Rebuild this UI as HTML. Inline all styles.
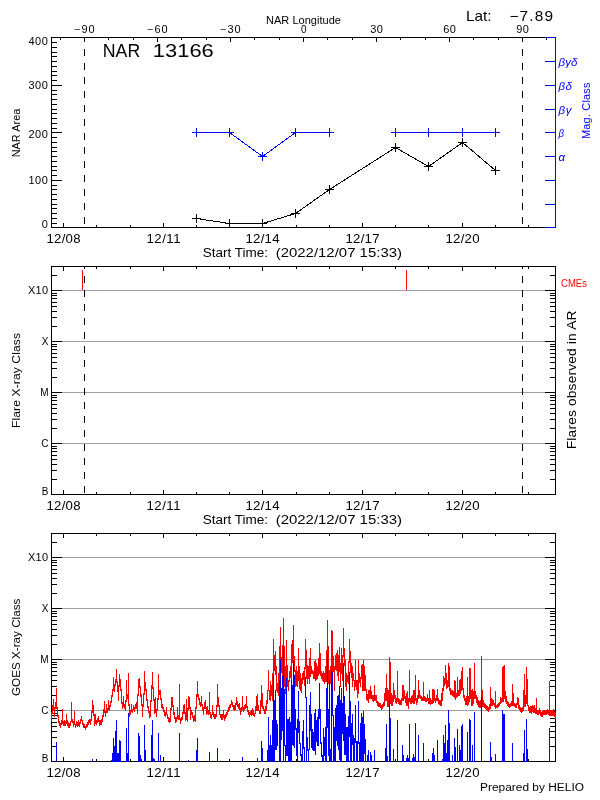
<!DOCTYPE html>
<html><head><meta charset="utf-8"><title>NAR 13166</title>
<style>html,body{margin:0;padding:0;background:#fff}svg{display:block}</style>
</head><body>
<svg width="600" height="800" viewBox="0 0 600 800" shape-rendering="crispEdges">
<rect width="600" height="800" fill="#fff"/>
<rect x="51" y="37" width="505" height="1" fill="#000"/>
<rect x="51" y="227" width="505" height="1" fill="#000"/>
<rect x="51" y="37" width="1" height="191" fill="#000"/>
<rect x="555" y="37" width="1" height="191" fill="#000"/>
<rect x="63" y="223" width="1" height="5" fill="#000"/>
<rect x="96" y="225" width="1" height="3" fill="#000"/>
<rect x="130" y="225" width="1" height="3" fill="#000"/>
<rect x="163" y="223" width="1" height="5" fill="#000"/>
<rect x="196" y="225" width="1" height="3" fill="#000"/>
<rect x="229" y="225" width="1" height="3" fill="#000"/>
<rect x="262" y="223" width="1" height="5" fill="#000"/>
<rect x="296" y="225" width="1" height="3" fill="#000"/>
<rect x="329" y="225" width="1" height="3" fill="#000"/>
<rect x="362" y="223" width="1" height="5" fill="#000"/>
<rect x="395" y="225" width="1" height="3" fill="#000"/>
<rect x="428" y="225" width="1" height="3" fill="#000"/>
<rect x="462" y="223" width="1" height="5" fill="#000"/>
<rect x="495" y="225" width="1" height="3" fill="#000"/>
<rect x="528" y="225" width="1" height="3" fill="#000"/>
<rect x="60" y="37" width="1" height="3" fill="#000"/>
<rect x="84" y="37" width="1" height="5" fill="#000"/>
<rect x="108" y="37" width="1" height="3" fill="#000"/>
<rect x="133" y="37" width="1" height="3" fill="#000"/>
<rect x="157" y="37" width="1" height="5" fill="#000"/>
<rect x="181" y="37" width="1" height="3" fill="#000"/>
<rect x="206" y="37" width="1" height="3" fill="#000"/>
<rect x="230" y="37" width="1" height="5" fill="#000"/>
<rect x="254" y="37" width="1" height="3" fill="#000"/>
<rect x="279" y="37" width="1" height="3" fill="#000"/>
<rect x="303" y="37" width="1" height="5" fill="#000"/>
<rect x="327" y="37" width="1" height="3" fill="#000"/>
<rect x="352" y="37" width="1" height="3" fill="#000"/>
<rect x="376" y="37" width="1" height="5" fill="#000"/>
<rect x="400" y="37" width="1" height="3" fill="#000"/>
<rect x="425" y="37" width="1" height="3" fill="#000"/>
<rect x="449" y="37" width="1" height="5" fill="#000"/>
<rect x="473" y="37" width="1" height="3" fill="#000"/>
<rect x="498" y="37" width="1" height="3" fill="#000"/>
<rect x="522" y="37" width="1" height="5" fill="#000"/>
<rect x="546" y="37" width="1" height="3" fill="#000"/>
<rect x="51" y="227" width="11" height="1" fill="#000"/>
<rect x="51" y="223" width="6" height="1" fill="#000"/>
<rect x="51" y="218" width="6" height="1" fill="#000"/>
<rect x="51" y="213" width="6" height="1" fill="#000"/>
<rect x="51" y="208" width="6" height="1" fill="#000"/>
<rect x="51" y="204" width="6" height="1" fill="#000"/>
<rect x="51" y="199" width="6" height="1" fill="#000"/>
<rect x="51" y="194" width="6" height="1" fill="#000"/>
<rect x="51" y="189" width="6" height="1" fill="#000"/>
<rect x="51" y="185" width="6" height="1" fill="#000"/>
<rect x="51" y="180" width="11" height="1" fill="#000"/>
<rect x="51" y="175" width="6" height="1" fill="#000"/>
<rect x="51" y="170" width="6" height="1" fill="#000"/>
<rect x="51" y="166" width="6" height="1" fill="#000"/>
<rect x="51" y="161" width="6" height="1" fill="#000"/>
<rect x="51" y="156" width="6" height="1" fill="#000"/>
<rect x="51" y="151" width="6" height="1" fill="#000"/>
<rect x="51" y="147" width="6" height="1" fill="#000"/>
<rect x="51" y="142" width="6" height="1" fill="#000"/>
<rect x="51" y="137" width="6" height="1" fill="#000"/>
<rect x="51" y="132" width="11" height="1" fill="#000"/>
<rect x="51" y="128" width="6" height="1" fill="#000"/>
<rect x="51" y="123" width="6" height="1" fill="#000"/>
<rect x="51" y="118" width="6" height="1" fill="#000"/>
<rect x="51" y="113" width="6" height="1" fill="#000"/>
<rect x="51" y="109" width="6" height="1" fill="#000"/>
<rect x="51" y="104" width="6" height="1" fill="#000"/>
<rect x="51" y="99" width="6" height="1" fill="#000"/>
<rect x="51" y="94" width="6" height="1" fill="#000"/>
<rect x="51" y="90" width="6" height="1" fill="#000"/>
<rect x="51" y="85" width="11" height="1" fill="#000"/>
<rect x="51" y="80" width="6" height="1" fill="#000"/>
<rect x="51" y="75" width="6" height="1" fill="#000"/>
<rect x="51" y="71" width="6" height="1" fill="#000"/>
<rect x="51" y="66" width="6" height="1" fill="#000"/>
<rect x="51" y="61" width="6" height="1" fill="#000"/>
<rect x="51" y="56" width="6" height="1" fill="#000"/>
<rect x="51" y="52" width="6" height="1" fill="#000"/>
<rect x="51" y="47" width="6" height="1" fill="#000"/>
<rect x="51" y="42" width="6" height="1" fill="#000"/>
<rect x="51" y="37" width="11" height="1" fill="#000"/>
<rect x="84" y="37" width="1" height="3" fill="#000"/>
<rect x="84" y="49" width="1" height="7" fill="#000"/>
<rect x="84" y="63" width="1" height="7" fill="#000"/>
<rect x="84" y="77" width="1" height="7" fill="#000"/>
<rect x="84" y="91" width="1" height="7" fill="#000"/>
<rect x="84" y="105" width="1" height="7" fill="#000"/>
<rect x="84" y="119" width="1" height="7" fill="#000"/>
<rect x="84" y="133" width="1" height="7" fill="#000"/>
<rect x="84" y="147" width="1" height="7" fill="#000"/>
<rect x="84" y="161" width="1" height="7" fill="#000"/>
<rect x="84" y="175" width="1" height="7" fill="#000"/>
<rect x="84" y="189" width="1" height="7" fill="#000"/>
<rect x="84" y="203" width="1" height="7" fill="#000"/>
<rect x="84" y="217" width="1" height="7" fill="#000"/>
<rect x="522" y="37" width="1" height="3" fill="#000"/>
<rect x="522" y="49" width="1" height="7" fill="#000"/>
<rect x="522" y="63" width="1" height="7" fill="#000"/>
<rect x="522" y="77" width="1" height="7" fill="#000"/>
<rect x="522" y="91" width="1" height="7" fill="#000"/>
<rect x="522" y="105" width="1" height="7" fill="#000"/>
<rect x="522" y="119" width="1" height="7" fill="#000"/>
<rect x="522" y="133" width="1" height="7" fill="#000"/>
<rect x="522" y="147" width="1" height="7" fill="#000"/>
<rect x="522" y="161" width="1" height="7" fill="#000"/>
<rect x="522" y="175" width="1" height="7" fill="#000"/>
<rect x="522" y="189" width="1" height="7" fill="#000"/>
<rect x="522" y="203" width="1" height="7" fill="#000"/>
<rect x="522" y="217" width="1" height="7" fill="#000"/>
<rect x="555" y="37" width="1" height="191" fill="#00f"/>
<rect x="545" y="227" width="11" height="1" fill="#00f"/>
<rect x="545" y="204" width="11" height="1" fill="#00f"/>
<rect x="545" y="180" width="11" height="1" fill="#00f"/>
<rect x="545" y="156" width="11" height="1" fill="#00f"/>
<rect x="545" y="132" width="11" height="1" fill="#00f"/>
<rect x="545" y="109" width="11" height="1" fill="#00f"/>
<rect x="545" y="85" width="11" height="1" fill="#00f"/>
<rect x="545" y="61" width="11" height="1" fill="#00f"/>
<rect x="545" y="37" width="11" height="1" fill="#00f"/>
<polyline points="196.5,218.5 229.5,223.5 262.5,223.5 295.5,213.5 329.5,189.5 395.5,147.5 428.5,166.5 462.5,142.5 495.5,170.5" fill="none" stroke="#000" stroke-width="1"/>
<rect x="192" y="218" width="9" height="1" fill="#000"/>
<rect x="196" y="214" width="1" height="9" fill="#000"/>
<rect x="225" y="223" width="9" height="1" fill="#000"/>
<rect x="229" y="219" width="1" height="9" fill="#000"/>
<rect x="258" y="223" width="9" height="1" fill="#000"/>
<rect x="262" y="219" width="1" height="9" fill="#000"/>
<rect x="291" y="213" width="9" height="1" fill="#000"/>
<rect x="295" y="209" width="1" height="9" fill="#000"/>
<rect x="325" y="189" width="9" height="1" fill="#000"/>
<rect x="329" y="185" width="1" height="9" fill="#000"/>
<rect x="391" y="147" width="9" height="1" fill="#000"/>
<rect x="395" y="143" width="1" height="9" fill="#000"/>
<rect x="424" y="166" width="9" height="1" fill="#000"/>
<rect x="428" y="162" width="1" height="9" fill="#000"/>
<rect x="458" y="142" width="9" height="1" fill="#000"/>
<rect x="462" y="138" width="1" height="9" fill="#000"/>
<rect x="491" y="170" width="9" height="1" fill="#000"/>
<rect x="495" y="166" width="1" height="9" fill="#000"/>
<polyline points="196.5,132.5 229.5,132.5 262.5,156.5 295.5,132.5 329.5,132.5" fill="none" stroke="#00f" stroke-width="1"/>
<polyline points="395.5,132.5 428.5,132.5 462.5,132.5 495.5,132.5" fill="none" stroke="#00f" stroke-width="1"/>
<rect x="192" y="132" width="9" height="1" fill="#00f"/>
<rect x="196" y="128" width="1" height="9" fill="#00f"/>
<rect x="225" y="132" width="9" height="1" fill="#00f"/>
<rect x="229" y="128" width="1" height="9" fill="#00f"/>
<rect x="258" y="156" width="9" height="1" fill="#00f"/>
<rect x="262" y="152" width="1" height="9" fill="#00f"/>
<rect x="291" y="132" width="9" height="1" fill="#00f"/>
<rect x="295" y="128" width="1" height="9" fill="#00f"/>
<rect x="325" y="132" width="9" height="1" fill="#00f"/>
<rect x="329" y="128" width="1" height="9" fill="#00f"/>
<rect x="391" y="132" width="9" height="1" fill="#00f"/>
<rect x="395" y="128" width="1" height="9" fill="#00f"/>
<rect x="424" y="132" width="9" height="1" fill="#00f"/>
<rect x="428" y="128" width="1" height="9" fill="#00f"/>
<rect x="458" y="132" width="9" height="1" fill="#00f"/>
<rect x="462" y="128" width="1" height="9" fill="#00f"/>
<rect x="491" y="132" width="9" height="1" fill="#00f"/>
<rect x="495" y="128" width="1" height="9" fill="#00f"/>
<rect x="51" y="266" width="505" height="1" fill="#000"/>
<rect x="51" y="494" width="505" height="1" fill="#000"/>
<rect x="51" y="266" width="1" height="229" fill="#000"/>
<rect x="555" y="266" width="1" height="229" fill="#000"/>
<rect x="63" y="490" width="1" height="5" fill="#000"/>
<rect x="63" y="266" width="1" height="5" fill="#000"/>
<rect x="96" y="492" width="1" height="3" fill="#000"/>
<rect x="96" y="266" width="1" height="3" fill="#000"/>
<rect x="130" y="492" width="1" height="3" fill="#000"/>
<rect x="130" y="266" width="1" height="3" fill="#000"/>
<rect x="163" y="490" width="1" height="5" fill="#000"/>
<rect x="163" y="266" width="1" height="5" fill="#000"/>
<rect x="196" y="492" width="1" height="3" fill="#000"/>
<rect x="196" y="266" width="1" height="3" fill="#000"/>
<rect x="229" y="492" width="1" height="3" fill="#000"/>
<rect x="229" y="266" width="1" height="3" fill="#000"/>
<rect x="262" y="490" width="1" height="5" fill="#000"/>
<rect x="262" y="266" width="1" height="5" fill="#000"/>
<rect x="296" y="492" width="1" height="3" fill="#000"/>
<rect x="296" y="266" width="1" height="3" fill="#000"/>
<rect x="329" y="492" width="1" height="3" fill="#000"/>
<rect x="329" y="266" width="1" height="3" fill="#000"/>
<rect x="362" y="490" width="1" height="5" fill="#000"/>
<rect x="362" y="266" width="1" height="5" fill="#000"/>
<rect x="395" y="492" width="1" height="3" fill="#000"/>
<rect x="395" y="266" width="1" height="3" fill="#000"/>
<rect x="428" y="492" width="1" height="3" fill="#000"/>
<rect x="428" y="266" width="1" height="3" fill="#000"/>
<rect x="462" y="490" width="1" height="5" fill="#000"/>
<rect x="462" y="266" width="1" height="5" fill="#000"/>
<rect x="495" y="492" width="1" height="3" fill="#000"/>
<rect x="495" y="266" width="1" height="3" fill="#000"/>
<rect x="528" y="492" width="1" height="3" fill="#000"/>
<rect x="528" y="266" width="1" height="3" fill="#000"/>
<rect x="51" y="494" width="11" height="1" fill="#000"/>
<rect x="545" y="494" width="11" height="1" fill="#000"/>
<rect x="51" y="479" width="6" height="1" fill="#000"/>
<rect x="550" y="479" width="6" height="1" fill="#000"/>
<rect x="51" y="470" width="6" height="1" fill="#000"/>
<rect x="550" y="470" width="6" height="1" fill="#000"/>
<rect x="51" y="464" width="6" height="1" fill="#000"/>
<rect x="550" y="464" width="6" height="1" fill="#000"/>
<rect x="51" y="459" width="6" height="1" fill="#000"/>
<rect x="550" y="459" width="6" height="1" fill="#000"/>
<rect x="51" y="455" width="6" height="1" fill="#000"/>
<rect x="550" y="455" width="6" height="1" fill="#000"/>
<rect x="51" y="451" width="6" height="1" fill="#000"/>
<rect x="550" y="451" width="6" height="1" fill="#000"/>
<rect x="51" y="448" width="6" height="1" fill="#000"/>
<rect x="550" y="448" width="6" height="1" fill="#000"/>
<rect x="51" y="446" width="6" height="1" fill="#000"/>
<rect x="550" y="446" width="6" height="1" fill="#000"/>
<rect x="62" y="443" width="483" height="1" fill="#a0a0a0"/>
<rect x="51" y="443" width="11" height="1" fill="#000"/>
<rect x="545" y="443" width="11" height="1" fill="#000"/>
<rect x="51" y="428" width="6" height="1" fill="#000"/>
<rect x="550" y="428" width="6" height="1" fill="#000"/>
<rect x="51" y="419" width="6" height="1" fill="#000"/>
<rect x="550" y="419" width="6" height="1" fill="#000"/>
<rect x="51" y="413" width="6" height="1" fill="#000"/>
<rect x="550" y="413" width="6" height="1" fill="#000"/>
<rect x="51" y="408" width="6" height="1" fill="#000"/>
<rect x="550" y="408" width="6" height="1" fill="#000"/>
<rect x="51" y="404" width="6" height="1" fill="#000"/>
<rect x="550" y="404" width="6" height="1" fill="#000"/>
<rect x="51" y="400" width="6" height="1" fill="#000"/>
<rect x="550" y="400" width="6" height="1" fill="#000"/>
<rect x="51" y="397" width="6" height="1" fill="#000"/>
<rect x="550" y="397" width="6" height="1" fill="#000"/>
<rect x="51" y="395" width="6" height="1" fill="#000"/>
<rect x="550" y="395" width="6" height="1" fill="#000"/>
<rect x="62" y="392" width="483" height="1" fill="#a0a0a0"/>
<rect x="51" y="392" width="11" height="1" fill="#000"/>
<rect x="545" y="392" width="11" height="1" fill="#000"/>
<rect x="51" y="377" width="6" height="1" fill="#000"/>
<rect x="550" y="377" width="6" height="1" fill="#000"/>
<rect x="51" y="368" width="6" height="1" fill="#000"/>
<rect x="550" y="368" width="6" height="1" fill="#000"/>
<rect x="51" y="362" width="6" height="1" fill="#000"/>
<rect x="550" y="362" width="6" height="1" fill="#000"/>
<rect x="51" y="357" width="6" height="1" fill="#000"/>
<rect x="550" y="357" width="6" height="1" fill="#000"/>
<rect x="51" y="353" width="6" height="1" fill="#000"/>
<rect x="550" y="353" width="6" height="1" fill="#000"/>
<rect x="51" y="349" width="6" height="1" fill="#000"/>
<rect x="550" y="349" width="6" height="1" fill="#000"/>
<rect x="51" y="346" width="6" height="1" fill="#000"/>
<rect x="550" y="346" width="6" height="1" fill="#000"/>
<rect x="51" y="344" width="6" height="1" fill="#000"/>
<rect x="550" y="344" width="6" height="1" fill="#000"/>
<rect x="62" y="341" width="483" height="1" fill="#a0a0a0"/>
<rect x="51" y="341" width="11" height="1" fill="#000"/>
<rect x="545" y="341" width="11" height="1" fill="#000"/>
<rect x="51" y="326" width="6" height="1" fill="#000"/>
<rect x="550" y="326" width="6" height="1" fill="#000"/>
<rect x="51" y="317" width="6" height="1" fill="#000"/>
<rect x="550" y="317" width="6" height="1" fill="#000"/>
<rect x="51" y="311" width="6" height="1" fill="#000"/>
<rect x="550" y="311" width="6" height="1" fill="#000"/>
<rect x="51" y="306" width="6" height="1" fill="#000"/>
<rect x="550" y="306" width="6" height="1" fill="#000"/>
<rect x="51" y="302" width="6" height="1" fill="#000"/>
<rect x="550" y="302" width="6" height="1" fill="#000"/>
<rect x="51" y="298" width="6" height="1" fill="#000"/>
<rect x="550" y="298" width="6" height="1" fill="#000"/>
<rect x="51" y="295" width="6" height="1" fill="#000"/>
<rect x="550" y="295" width="6" height="1" fill="#000"/>
<rect x="51" y="293" width="6" height="1" fill="#000"/>
<rect x="550" y="293" width="6" height="1" fill="#000"/>
<rect x="62" y="290" width="483" height="1" fill="#a0a0a0"/>
<rect x="51" y="290" width="11" height="1" fill="#000"/>
<rect x="545" y="290" width="11" height="1" fill="#000"/>
<rect x="51" y="275" width="6" height="1" fill="#000"/>
<rect x="550" y="275" width="6" height="1" fill="#000"/>
<rect x="51" y="266" width="6" height="1" fill="#000"/>
<rect x="550" y="266" width="6" height="1" fill="#000"/>
<rect x="84" y="266" width="1" height="3" fill="#000"/>
<rect x="84" y="276" width="1" height="7" fill="#000"/>
<rect x="84" y="290" width="1" height="7" fill="#000"/>
<rect x="84" y="304" width="1" height="7" fill="#000"/>
<rect x="84" y="318" width="1" height="7" fill="#000"/>
<rect x="84" y="332" width="1" height="7" fill="#000"/>
<rect x="84" y="346" width="1" height="7" fill="#000"/>
<rect x="84" y="360" width="1" height="7" fill="#000"/>
<rect x="84" y="374" width="1" height="7" fill="#000"/>
<rect x="84" y="388" width="1" height="7" fill="#000"/>
<rect x="84" y="402" width="1" height="7" fill="#000"/>
<rect x="84" y="416" width="1" height="7" fill="#000"/>
<rect x="84" y="430" width="1" height="7" fill="#000"/>
<rect x="84" y="444" width="1" height="7" fill="#000"/>
<rect x="84" y="458" width="1" height="7" fill="#000"/>
<rect x="84" y="472" width="1" height="7" fill="#000"/>
<rect x="84" y="486" width="1" height="7" fill="#000"/>
<rect x="522" y="266" width="1" height="3" fill="#000"/>
<rect x="522" y="276" width="1" height="7" fill="#000"/>
<rect x="522" y="290" width="1" height="7" fill="#000"/>
<rect x="522" y="304" width="1" height="7" fill="#000"/>
<rect x="522" y="318" width="1" height="7" fill="#000"/>
<rect x="522" y="332" width="1" height="7" fill="#000"/>
<rect x="522" y="346" width="1" height="7" fill="#000"/>
<rect x="522" y="360" width="1" height="7" fill="#000"/>
<rect x="522" y="374" width="1" height="7" fill="#000"/>
<rect x="522" y="388" width="1" height="7" fill="#000"/>
<rect x="522" y="402" width="1" height="7" fill="#000"/>
<rect x="522" y="416" width="1" height="7" fill="#000"/>
<rect x="522" y="430" width="1" height="7" fill="#000"/>
<rect x="522" y="444" width="1" height="7" fill="#000"/>
<rect x="522" y="458" width="1" height="7" fill="#000"/>
<rect x="522" y="472" width="1" height="7" fill="#000"/>
<rect x="522" y="486" width="1" height="7" fill="#000"/>
<rect x="82" y="270" width="1" height="20" fill="#f00"/>
<rect x="406" y="270" width="1" height="20" fill="#f00"/>
<rect x="51" y="533" width="505" height="1" fill="#000"/>
<rect x="51" y="761" width="505" height="1" fill="#000"/>
<rect x="51" y="533" width="1" height="229" fill="#000"/>
<rect x="555" y="533" width="1" height="229" fill="#000"/>
<rect x="63" y="757" width="1" height="5" fill="#000"/>
<rect x="63" y="533" width="1" height="5" fill="#000"/>
<rect x="96" y="759" width="1" height="3" fill="#000"/>
<rect x="96" y="533" width="1" height="3" fill="#000"/>
<rect x="130" y="759" width="1" height="3" fill="#000"/>
<rect x="130" y="533" width="1" height="3" fill="#000"/>
<rect x="163" y="757" width="1" height="5" fill="#000"/>
<rect x="163" y="533" width="1" height="5" fill="#000"/>
<rect x="196" y="759" width="1" height="3" fill="#000"/>
<rect x="196" y="533" width="1" height="3" fill="#000"/>
<rect x="229" y="759" width="1" height="3" fill="#000"/>
<rect x="229" y="533" width="1" height="3" fill="#000"/>
<rect x="262" y="757" width="1" height="5" fill="#000"/>
<rect x="262" y="533" width="1" height="5" fill="#000"/>
<rect x="296" y="759" width="1" height="3" fill="#000"/>
<rect x="296" y="533" width="1" height="3" fill="#000"/>
<rect x="329" y="759" width="1" height="3" fill="#000"/>
<rect x="329" y="533" width="1" height="3" fill="#000"/>
<rect x="362" y="757" width="1" height="5" fill="#000"/>
<rect x="362" y="533" width="1" height="5" fill="#000"/>
<rect x="395" y="759" width="1" height="3" fill="#000"/>
<rect x="395" y="533" width="1" height="3" fill="#000"/>
<rect x="428" y="759" width="1" height="3" fill="#000"/>
<rect x="428" y="533" width="1" height="3" fill="#000"/>
<rect x="462" y="757" width="1" height="5" fill="#000"/>
<rect x="462" y="533" width="1" height="5" fill="#000"/>
<rect x="495" y="759" width="1" height="3" fill="#000"/>
<rect x="495" y="533" width="1" height="3" fill="#000"/>
<rect x="528" y="759" width="1" height="3" fill="#000"/>
<rect x="528" y="533" width="1" height="3" fill="#000"/>
<rect x="51" y="761" width="11" height="1" fill="#000"/>
<rect x="545" y="761" width="11" height="1" fill="#000"/>
<rect x="51" y="746" width="6" height="1" fill="#000"/>
<rect x="550" y="746" width="6" height="1" fill="#000"/>
<rect x="51" y="737" width="6" height="1" fill="#000"/>
<rect x="550" y="737" width="6" height="1" fill="#000"/>
<rect x="51" y="731" width="6" height="1" fill="#000"/>
<rect x="550" y="731" width="6" height="1" fill="#000"/>
<rect x="51" y="726" width="6" height="1" fill="#000"/>
<rect x="550" y="726" width="6" height="1" fill="#000"/>
<rect x="51" y="722" width="6" height="1" fill="#000"/>
<rect x="550" y="722" width="6" height="1" fill="#000"/>
<rect x="51" y="718" width="6" height="1" fill="#000"/>
<rect x="550" y="718" width="6" height="1" fill="#000"/>
<rect x="51" y="715" width="6" height="1" fill="#000"/>
<rect x="550" y="715" width="6" height="1" fill="#000"/>
<rect x="51" y="713" width="6" height="1" fill="#000"/>
<rect x="550" y="713" width="6" height="1" fill="#000"/>
<rect x="62" y="710" width="483" height="1" fill="#a0a0a0"/>
<rect x="51" y="710" width="11" height="1" fill="#000"/>
<rect x="545" y="710" width="11" height="1" fill="#000"/>
<rect x="51" y="695" width="6" height="1" fill="#000"/>
<rect x="550" y="695" width="6" height="1" fill="#000"/>
<rect x="51" y="686" width="6" height="1" fill="#000"/>
<rect x="550" y="686" width="6" height="1" fill="#000"/>
<rect x="51" y="680" width="6" height="1" fill="#000"/>
<rect x="550" y="680" width="6" height="1" fill="#000"/>
<rect x="51" y="675" width="6" height="1" fill="#000"/>
<rect x="550" y="675" width="6" height="1" fill="#000"/>
<rect x="51" y="671" width="6" height="1" fill="#000"/>
<rect x="550" y="671" width="6" height="1" fill="#000"/>
<rect x="51" y="667" width="6" height="1" fill="#000"/>
<rect x="550" y="667" width="6" height="1" fill="#000"/>
<rect x="51" y="664" width="6" height="1" fill="#000"/>
<rect x="550" y="664" width="6" height="1" fill="#000"/>
<rect x="51" y="662" width="6" height="1" fill="#000"/>
<rect x="550" y="662" width="6" height="1" fill="#000"/>
<rect x="62" y="659" width="483" height="1" fill="#a0a0a0"/>
<rect x="51" y="659" width="11" height="1" fill="#000"/>
<rect x="545" y="659" width="11" height="1" fill="#000"/>
<rect x="51" y="644" width="6" height="1" fill="#000"/>
<rect x="550" y="644" width="6" height="1" fill="#000"/>
<rect x="51" y="635" width="6" height="1" fill="#000"/>
<rect x="550" y="635" width="6" height="1" fill="#000"/>
<rect x="51" y="629" width="6" height="1" fill="#000"/>
<rect x="550" y="629" width="6" height="1" fill="#000"/>
<rect x="51" y="624" width="6" height="1" fill="#000"/>
<rect x="550" y="624" width="6" height="1" fill="#000"/>
<rect x="51" y="620" width="6" height="1" fill="#000"/>
<rect x="550" y="620" width="6" height="1" fill="#000"/>
<rect x="51" y="616" width="6" height="1" fill="#000"/>
<rect x="550" y="616" width="6" height="1" fill="#000"/>
<rect x="51" y="613" width="6" height="1" fill="#000"/>
<rect x="550" y="613" width="6" height="1" fill="#000"/>
<rect x="51" y="611" width="6" height="1" fill="#000"/>
<rect x="550" y="611" width="6" height="1" fill="#000"/>
<rect x="62" y="608" width="483" height="1" fill="#a0a0a0"/>
<rect x="51" y="608" width="11" height="1" fill="#000"/>
<rect x="545" y="608" width="11" height="1" fill="#000"/>
<rect x="51" y="593" width="6" height="1" fill="#000"/>
<rect x="550" y="593" width="6" height="1" fill="#000"/>
<rect x="51" y="584" width="6" height="1" fill="#000"/>
<rect x="550" y="584" width="6" height="1" fill="#000"/>
<rect x="51" y="578" width="6" height="1" fill="#000"/>
<rect x="550" y="578" width="6" height="1" fill="#000"/>
<rect x="51" y="573" width="6" height="1" fill="#000"/>
<rect x="550" y="573" width="6" height="1" fill="#000"/>
<rect x="51" y="569" width="6" height="1" fill="#000"/>
<rect x="550" y="569" width="6" height="1" fill="#000"/>
<rect x="51" y="565" width="6" height="1" fill="#000"/>
<rect x="550" y="565" width="6" height="1" fill="#000"/>
<rect x="51" y="562" width="6" height="1" fill="#000"/>
<rect x="550" y="562" width="6" height="1" fill="#000"/>
<rect x="51" y="560" width="6" height="1" fill="#000"/>
<rect x="550" y="560" width="6" height="1" fill="#000"/>
<rect x="62" y="557" width="483" height="1" fill="#a0a0a0"/>
<rect x="51" y="557" width="11" height="1" fill="#000"/>
<rect x="545" y="557" width="11" height="1" fill="#000"/>
<rect x="51" y="542" width="6" height="1" fill="#000"/>
<rect x="550" y="542" width="6" height="1" fill="#000"/>
<rect x="51" y="533" width="6" height="1" fill="#000"/>
<rect x="550" y="533" width="6" height="1" fill="#000"/>
<path fill="#f00" d="M51 712v9h1v-9zM52 705v9h1v-9zM53 699v12h1v-12zM54 707v10h1v-10zM55 702v7h1v-7zM56 688v21h1v-21zM57 707v10h1v-10zM58 715v8h1v-8zM59 721v5h1v-5zM60 723v5h1v-5zM61 720v5h1v-5zM62 709v15h1v-15zM63 721v5h1v-5zM64 720v6h1v-6zM65 721v5h1v-5zM66 714v10h1v-10zM67 720v6h1v-6zM68 722v6h1v-6zM69 723v5h1v-5zM70 721v5h1v-5zM71 702v20h1v-20zM72 719v4h1v-4zM73 721v6h1v-6zM74 711v14h1v-14zM75 724v4h1v-4zM76 721v5h1v-5zM77 722v5h1v-5zM78 720v6h1v-6zM79 722v5h1v-5zM80 719v5h1v-5zM81 716v5h1v-5zM82 720v5h1v-5zM83 723v5h1v-5zM84 724v4h1v-4zM85 726v4h1v-4zM86 724v4h1v-4zM87 722v5h1v-5zM88 720v5h1v-5zM89 719v4h1v-4zM90 719v6h1v-6zM91 711v10h1v-10zM92 700v13h1v-13zM93 705v11h1v-11zM94 714v12h1v-12zM95 714v10h1v-10zM96 720v5h1v-5zM97 718v5h1v-5zM98 716v6h1v-6zM99 720v6h1v-6zM100 720v5h1v-5zM101 719v6h1v-6zM102 715v7h1v-7zM103 709v8h1v-8zM104 701v12h1v-12zM105 711v6h1v-6zM106 704v9h1v-9zM107 708v5h1v-5zM108 700v10h1v-10zM109 705v6h1v-6zM110 701v6h1v-6zM111 695v8h1v-8zM112 689v8h1v-8zM113 677v14h1v-14zM114 684v8h1v-8zM115 679v7h1v-7zM116 669v14h1v-14zM117 681v11h1v-11zM118 685v16h1v-16zM119 674v13h1v-13zM120 679v12h1v-12zM121 689v15h1v-15zM122 702v7h1v-7zM123 696v11h1v-11zM124 704v5h1v-5zM125 700v11h1v-11zM126 680v22h1v-22zM127 694v5h1v-5zM128 673v33h1v-33zM129 704v13h1v-13zM130 710v5h1v-5zM131 704v8h1v-8zM132 709v4h1v-4zM133 705v5h1v-5zM134 707v5h1v-5zM135 704v5h1v-5zM136 702v7h1v-7zM137 694v20h1v-20zM138 679v17h1v-17zM139 678v10h1v-10zM140 686v11h1v-11zM141 694v12h1v-12zM142 704v13h1v-13zM143 693v14h1v-14zM144 671v24h1v-24zM145 682v9h1v-9zM146 689v12h1v-12zM147 699v9h1v-9zM148 706v7h1v-7zM149 711v7h1v-7zM150 700v17h1v-17zM151 685v17h1v-17zM152 672v17h1v-17zM153 687v14h1v-14zM154 699v15h1v-15zM155 697v16h1v-16zM156 709v8h1v-8zM157 698v13h1v-13zM158 674v26h1v-26zM159 690v5h1v-5zM160 690v10h1v-10zM161 698v10h1v-10zM162 704v5h1v-5zM163 707v5h1v-5zM164 710v6h1v-6zM165 712v5h1v-5zM166 707v8h1v-8zM167 714v5h1v-5zM168 717v5h1v-5zM169 718v5h1v-5zM170 708v14h1v-14zM171 697v13h1v-13zM172 697v10h1v-10zM173 705v10h1v-10zM174 712v7h1v-7zM175 717v6h1v-6zM176 717v5h1v-5zM177 707v12h1v-12zM178 715v5h1v-5zM179 684v36h1v-36zM180 718v6h1v-6zM181 717v4h1v-4zM182 712v8h1v-8zM183 705v9h1v-9zM184 704v10h1v-10zM185 712v9h1v-9zM186 699v21h1v-21zM187 708v14h1v-14zM188 696v14h1v-14zM189 697v12h1v-12zM190 707v13h1v-13zM191 710v5h1v-5zM192 712v6h1v-6zM193 716v6h1v-6zM194 715v6h1v-6zM195 707v15h1v-15zM196 694v15h1v-15zM197 681v16h1v-16zM198 694v6h1v-6zM199 698v7h1v-7zM200 702v5h1v-5zM201 696v10h1v-10zM202 704v7h1v-7zM203 707v8h1v-8zM204 702v7h1v-7zM205 700v9h1v-9zM206 707v8h1v-8zM207 706v8h1v-8zM208 710v5h1v-5zM209 692v22h1v-22zM210 712v6h1v-6zM211 714v5h1v-5zM212 705v10h1v-10zM213 712v5h1v-5zM214 714v5h1v-5zM215 714v5h1v-5zM216 705v12h1v-12zM217 684v23h1v-23zM218 697v10h1v-10zM219 705v10h1v-10zM220 714v4h1v-4zM221 714v6h1v-6zM222 714v6h1v-6zM223 710v8h1v-8zM224 715v6h1v-6zM225 714v5h1v-5zM226 712v5h1v-5zM227 710v5h1v-5zM228 707v5h1v-5zM229 705v5h1v-5zM230 704v4h1v-4zM231 700v5h1v-5zM232 702v5h1v-5zM233 705v5h1v-5zM234 705v6h1v-6zM235 703v7h1v-7zM236 697v8h1v-8zM237 701v6h1v-6zM238 704v5h1v-5zM239 703v7h1v-7zM240 708v7h1v-7zM241 707v5h1v-5zM242 696v14h1v-14zM243 707v5h1v-5zM244 705v5h1v-5zM245 704v5h1v-5zM246 696v12h1v-12zM247 706v6h1v-6zM248 710v5h1v-5zM249 712v5h1v-5zM250 711v4h1v-4zM251 710v6h1v-6zM252 708v7h1v-7zM253 710v6h1v-6zM254 713v4h1v-4zM255 706v8h1v-8zM256 696v15h1v-15zM257 694v17h1v-17zM258 705v6h1v-6zM259 710v4h1v-4zM260 700v14h1v-14zM261 685v22h1v-22zM262 693v16h1v-16zM263 706v5h1v-5zM264 709v5h1v-5zM265 706v8h1v-8zM266 700v11h1v-11zM267 690v14h1v-14zM268 670v21h1v-21zM269 690v10h1v-10zM270 681v20h1v-20zM271 685v11h1v-11zM272 673v28h1v-28zM273 639v42h1v-42zM274 655v16h1v-16zM275 651v24h1v-24zM276 666v25h1v-25zM277 683v10h1v-10zM278 673v23h1v-23zM279 646v35h1v-35zM280 627v32h1v-32zM281 657v16h1v-16zM282 645v36h1v-36zM283 618v49h1v-49zM284 646v41h1v-41zM285 666v28h1v-28zM286 640v41h1v-41zM287 665v22h1v-22zM288 680v11h1v-11zM289 671v11h1v-11zM290 666v12h1v-12zM291 644v37h1v-37zM292 640v23h1v-23zM293 625v34h1v-34zM294 656v16h1v-16zM295 670v17h1v-17zM296 666v20h1v-20zM297 671v16h1v-16zM298 648v33h1v-33zM299 666v23h1v-23zM300 673v18h1v-18zM301 678v15h1v-15zM302 673v11h1v-11zM303 671v9h1v-9zM304 667v19h1v-19zM305 639v30h1v-30zM306 650v29h1v-29zM307 665v19h1v-19zM308 666v13h1v-13zM309 658v26h1v-26zM310 648v29h1v-29zM311 666v8h1v-8zM312 670v4h1v-4zM313 671v8h1v-8zM314 661v18h1v-18zM315 660v21h1v-21zM316 663v17h1v-17zM317 666v13h1v-13zM318 658v18h1v-18zM319 643v31h1v-31zM320 653v23h1v-23zM321 671v8h1v-8zM322 673v8h1v-8zM323 671v11h1v-11zM324 673v11h1v-11zM325 666v16h1v-16zM326 650v32h1v-32zM327 620v54h1v-54zM328 646v38h1v-38zM329 670v24h1v-24zM330 666v18h1v-18zM331 630v51h1v-51zM332 631v45h1v-45zM333 656v16h1v-16zM334 666v25h1v-25zM335 655v15h1v-15zM336 653v18h1v-18zM337 650v26h1v-26zM338 655v26h1v-26zM339 647v25h1v-25zM340 663v24h1v-24zM341 648v26h1v-26zM342 655v26h1v-26zM343 628v29h1v-29zM344 648v18h1v-18zM345 660v27h1v-27zM346 673v18h1v-18zM347 675v7h1v-7zM348 661v23h1v-23zM349 639v24h1v-24zM350 651v22h1v-22zM351 663v15h1v-15zM352 666v21h1v-21zM353 673v8h1v-8zM354 680v11h1v-11zM355 660v27h1v-27zM356 680v10h1v-10zM357 680v18h1v-18zM358 660v34h1v-34zM359 673v10h1v-10zM360 677v10h1v-10zM361 665v14h1v-14zM362 664v27h1v-27zM363 660v31h1v-31zM364 666v25h1v-25zM365 675v16h1v-16zM366 689v11h1v-11zM367 694v7h1v-7zM368 690v13h1v-13zM369 690v9h1v-9zM370 686v13h1v-13zM371 691v8h1v-8zM372 695v6h1v-6zM373 695v7h1v-7zM374 685v16h1v-16zM375 695v6h1v-6zM376 695v8h1v-8zM377 701v5h1v-5zM378 702v5h1v-5zM379 703v4h1v-4zM380 703v5h1v-5zM381 705v5h1v-5zM382 704v5h1v-5zM383 702v5h1v-5zM384 693v13h1v-13zM385 688v13h1v-13zM386 674v27h1v-27zM387 688v19h1v-19zM388 690v17h1v-17zM389 657v44h1v-44zM390 662v42h1v-42zM391 693v13h1v-13zM392 695v11h1v-11zM393 683v19h1v-19zM394 690v9h1v-9zM395 695v8h1v-8zM396 698v6h1v-6zM397 671v31h1v-31zM398 698v6h1v-6zM399 699v6h1v-6zM400 700v5h1v-5zM401 698v7h1v-7zM402 685v16h1v-16zM403 685v16h1v-16zM404 690v9h1v-9zM405 696v7h1v-7zM406 693v13h1v-13zM407 691v15h1v-15zM408 698v11h1v-11zM409 670v32h1v-32zM410 698v6h1v-6zM411 696v8h1v-8zM412 695v8h1v-8zM413 690v14h1v-14zM414 690v14h1v-14zM415 675v26h1v-26zM416 698v7h1v-7zM417 695v8h1v-8zM418 680v19h1v-19zM419 690v8h1v-8zM420 695v4h1v-4zM421 696v5h1v-5zM422 697v4h1v-4zM423 682v19h1v-19zM424 696v5h1v-5zM425 697v5h1v-5zM426 698v4h1v-4zM427 694v7h1v-7zM428 698v6h1v-6zM429 690v14h1v-14zM430 698v7h1v-7zM431 700v4h1v-4zM432 689v15h1v-15zM433 689v14h1v-14zM434 690v11h1v-11zM435 698v5h1v-5zM436 695v6h1v-6zM437 689v12h1v-12zM438 698v6h1v-6zM439 700v5h1v-5zM440 700v6h1v-6zM441 693v13h1v-13zM442 688v13h1v-13zM443 676v15h1v-15zM444 678v8h1v-8zM445 665v19h1v-19zM446 673v16h1v-16zM447 680v8h1v-8zM448 663v24h1v-24zM449 666v25h1v-25zM450 688v7h1v-7zM451 690v5h1v-5zM452 690v6h1v-6zM453 691v6h1v-6zM454 680v18h1v-18zM455 681v19h1v-19zM456 693v5h1v-5zM457 677v20h1v-20zM458 690v6h1v-6zM459 680v16h1v-16zM460 679v15h1v-15zM461 671v20h1v-20zM462 667v23h1v-23zM463 688v10h1v-10zM464 695v6h1v-6zM465 698v7h1v-7zM466 696v9h1v-9zM467 677v29h1v-29zM468 696v9h1v-9zM469 668v34h1v-34zM470 668v31h1v-31zM471 690v16h1v-16zM472 689v17h1v-17zM473 691v13h1v-13zM474 663v36h1v-36zM475 691v8h1v-8zM476 695v8h1v-8zM477 697v8h1v-8zM478 700v7h1v-7zM479 701v7h1v-7zM480 700v8h1v-8zM481 656v53h1v-53zM482 690v17h1v-17zM483 700v7h1v-7zM484 703v5h1v-5zM485 704v5h1v-5zM486 705v5h1v-5zM487 706v5h1v-5zM488 707v5h1v-5zM489 704v6h1v-6zM490 687v22h1v-22zM491 698v8h1v-8zM492 699v7h1v-7zM493 700v5h1v-5zM494 703v4h1v-4zM495 691v18h1v-18zM496 705v3h1v-3zM497 704v4h1v-4zM498 703v4h1v-4zM499 702v4h1v-4zM500 697v7h1v-7zM501 698v5h1v-5zM502 667v35h1v-35zM503 666v36h1v-36zM504 665v34h1v-34zM505 691v11h1v-11zM506 696v8h1v-8zM507 701v5h1v-5zM508 702v5h1v-5zM509 704v4h1v-4zM510 703v4h1v-4zM511 701v5h1v-5zM512 684v22h1v-22zM513 693v13h1v-13zM514 703v4h1v-4zM515 704v4h1v-4zM516 703v5h1v-5zM517 697v8h1v-8zM518 698v11h1v-11zM519 705v5h1v-5zM520 707v5h1v-5zM521 708v5h1v-5zM522 707v5h1v-5zM523 690v21h1v-21zM524 674v33h1v-33zM525 695v12h1v-12zM526 667v37h1v-37zM527 679v27h1v-27zM528 705v6h1v-6zM529 707v6h1v-6zM530 706v7h1v-7zM531 706v8h1v-8zM532 705v7h1v-7zM533 706v7h1v-7zM534 705v8h1v-8zM535 708v6h1v-6zM536 698v16h1v-16zM537 710v5h1v-5zM538 710v5h1v-5zM539 708v6h1v-6zM540 710v6h1v-6zM541 712v5h1v-5zM542 711v6h1v-6zM543 710v5h1v-5zM544 710v5h1v-5zM545 710v5h1v-5zM546 710v5h1v-5zM547 709v5h1v-5zM548 710v5h1v-5zM549 681v35h1v-35zM550 710v6h1v-6zM551 710v6h1v-6zM552 710v6h1v-6zM553 709v7h1v-7zM554 711v6h1v-6zM555 713v6h1v-6z"/>
<path fill="#00f" d="M56 742v20h1v-20zM92 759v3h1v-3zM111 760v2h1v-2zM112 753v9h1v-9zM113 738v24h1v-24zM114 746v16h1v-16zM115 731v31h1v-31zM116 720v42h1v-42zM117 753v9h1v-9zM118 753v9h1v-9zM119 740v22h1v-22zM120 741v21h1v-21zM126 728v34h1v-34zM127 753v9h1v-9zM128 713v49h1v-49zM138 733v29h1v-29zM139 736v26h1v-26zM140 755v7h1v-7zM141 759v3h1v-3zM144 725v37h1v-37zM145 750v12h1v-12zM151 735v27h1v-27zM152 720v42h1v-42zM153 758v4h1v-4zM154 759v3h1v-3zM158 733v29h1v-29zM160 755v7h1v-7zM179 733v29h1v-29zM188 760v2h1v-2zM196 750v12h1v-12zM197 738v24h1v-24zM209 752v10h1v-10zM217 748v14h1v-14zM242 757v5h1v-5zM257 758v4h1v-4zM261 741v21h1v-21zM262 748v14h1v-14zM267 750v12h1v-12zM268 717v45h1v-45zM269 745v17h1v-17zM270 735v27h1v-27zM271 745v17h1v-17zM272 720v42h1v-42zM273 675v87h1v-87zM274 700v62h1v-62zM275 690v60h1v-60zM276 720v30h1v-30zM277 724v22h1v-22zM279 680v82h1v-82zM280 659v103h1v-103zM281 688v52h1v-52zM282 676v55h1v-55zM283 647v115h1v-115zM284 689v57h1v-57zM285 745v17h1v-17zM286 678v78h1v-78zM287 719v37h1v-37zM288 719v43h1v-43zM289 717v45h1v-45zM290 722v40h1v-40zM291 680v82h1v-82zM292 685v60h1v-60zM293 660v86h1v-86zM294 675v73h1v-73zM295 709v21h1v-21zM296 728v28h1v-28zM297 719v43h1v-43zM298 691v42h1v-42zM299 721v23h1v-23zM300 743v13h1v-13zM301 754v8h1v-8zM302 731v31h1v-31zM303 720v29h1v-29zM304 747v15h1v-15zM305 677v21h1v-21zM306 697v65h1v-65zM307 737v14h1v-14zM308 749v13h1v-13zM309 705v45h1v-45zM310 692v39h1v-39zM311 714v34h1v-34zM312 729v21h1v-21zM313 732v19h1v-19zM314 713v38h1v-38zM315 709v46h1v-46zM316 720v22h1v-22zM317 717v29h1v-29zM318 709v37h1v-37zM319 683v36h1v-36zM320 709v35h1v-35zM321 742v15h1v-15zM322 755v7h1v-7zM323 728v34h1v-34zM324 737v19h1v-19zM325 727v35h1v-35zM326 688v74h1v-74zM327 654v74h1v-74zM328 709v47h1v-47zM329 680v82h1v-82zM330 749v13h1v-13zM331 670v92h1v-92zM332 672v44h1v-44zM333 715v47h1v-47zM334 727v35h1v-35zM335 708v54h1v-54zM336 705v36h1v-36zM337 696v50h1v-50zM338 695v55h1v-55zM339 686v74h1v-74zM340 700v62h1v-62zM341 688v74h1v-74zM342 703v31h1v-31zM343 663v78h1v-78zM344 696v59h1v-59zM345 714v41h1v-41zM346 727v35h1v-35zM347 727v35h1v-35zM348 716v46h1v-46zM349 672v65h1v-65zM350 701v61h1v-61zM351 723v39h1v-39zM352 714v31h1v-31zM353 735v27h1v-27zM354 738v24h1v-24zM355 705v38h1v-38zM356 741v21h1v-21zM357 741v21h1v-21zM358 701v43h1v-43zM359 742v20h1v-20zM360 723v39h1v-39zM361 713v49h1v-49zM362 717v45h1v-45zM363 711v51h1v-51zM364 724v30h1v-30zM365 739v23h1v-23zM367 755v7h1v-7zM368 750v12h1v-12zM370 752v10h1v-10zM371 755v7h1v-7zM374 750v12h1v-12zM385 748v14h1v-14zM386 724v38h1v-38zM387 756v6h1v-6zM389 700v62h1v-62zM390 718v44h1v-44zM393 749v13h1v-13zM397 720v42h1v-42zM402 745v17h1v-17zM403 755v7h1v-7zM406 758v4h1v-4zM407 755v7h1v-7zM408 758v4h1v-4zM409 724v38h1v-38zM412 758v4h1v-4zM413 754v8h1v-8zM414 757v5h1v-5zM415 723v39h1v-39zM418 735v27h1v-27zM423 743v19h1v-19zM432 753v9h1v-9zM433 748v14h1v-14zM434 755v7h1v-7zM437 740v22h1v-22zM442 759v3h1v-3zM443 735v27h1v-27zM444 743v19h1v-19zM445 725v37h1v-37zM446 753v9h1v-9zM447 740v22h1v-22zM448 710v52h1v-52zM449 723v39h1v-39zM452 755v7h1v-7zM454 738v24h1v-24zM455 747v15h1v-15zM457 729v33h1v-33zM459 745v17h1v-17zM460 750v12h1v-12zM461 726v36h1v-36zM462 724v38h1v-38zM467 732v30h1v-30zM469 719v43h1v-43zM470 720v42h1v-42zM472 745v17h1v-17zM474 712v50h1v-50zM481 697v65h1v-65zM490 742v20h1v-20zM491 757v5h1v-5zM495 754v8h1v-8zM502 710v52h1v-52zM503 714v48h1v-48zM504 714v48h1v-48zM512 743v19h1v-19zM523 753v9h1v-9zM524 730v32h1v-32zM526 719v43h1v-43zM527 749v13h1v-13zM549 728v34h1v-34z"/>
<g font-family="'Liberation Sans', sans-serif" fill="#000" shape-rendering="auto">
<text x="0" y="0" font-size="10" textLength="68.18" lengthAdjust="spacing" transform="translate(266 23.5) scale(1.1 1)">NAR Longitude</text>
<text x="0" y="0" font-size="10" textLength="18.55" lengthAdjust="spacing" transform="translate(74.3 33.3) scale(1.1 1)">−90</text>
<text x="0" y="0" font-size="10" textLength="18.55" lengthAdjust="spacing" transform="translate(147.3 33.3) scale(1.1 1)">−60</text>
<text x="0" y="0" font-size="10" textLength="18.55" lengthAdjust="spacing" transform="translate(220.3 33.3) scale(1.1 1)">−30</text>
<text x="0" y="0" font-size="10" textLength="5.56" lengthAdjust="spacing" transform="translate(301.05 33.3) scale(0.9887640449438202 1)">0</text>
<text x="0" y="0" font-size="10" textLength="11.36" lengthAdjust="spacing" transform="translate(370.25 33.3) scale(1.1 1)">30</text>
<text x="0" y="0" font-size="10" textLength="11.36" lengthAdjust="spacing" transform="translate(443.25 33.3) scale(1.1 1)">60</text>
<text x="0" y="0" font-size="10" textLength="11.36" lengthAdjust="spacing" transform="translate(516.25 33.3) scale(1.1 1)">90</text>
<text x="0" y="0" font-size="14" textLength="23.36" lengthAdjust="spacing" transform="translate(466 20.5) scale(1.091638795986622 1)">Lat:</text>
<text x="0" y="0" font-size="14" textLength="39.55" lengthAdjust="spacing" transform="translate(509.5 20.5) scale(1.1 1)">−7.89</text>
<text y="57" font-size="18.5"><tspan x="102.8" textLength="37.4" lengthAdjust="spacingAndGlyphs">NAR</tspan> <tspan x="152.8" textLength="61" lengthAdjust="spacingAndGlyphs">13166</tspan></text>
<text x="0" y="0" font-size="10" textLength="17.55" lengthAdjust="spacing" transform="translate(28.5 44.7) scale(1.1 1)">400</text>
<text x="0" y="0" font-size="10" textLength="17.55" lengthAdjust="spacing" transform="translate(28.5 89.4) scale(1.1 1)">300</text>
<text x="0" y="0" font-size="10" textLength="17.55" lengthAdjust="spacing" transform="translate(28.5 137.6) scale(1.1 1)">200</text>
<text x="0" y="0" font-size="10" textLength="17.55" lengthAdjust="spacing" transform="translate(28.5 184.4) scale(1.1 1)">100</text>
<text x="0" y="0" font-size="10" textLength="5.56" lengthAdjust="spacing" transform="translate(41.699999999999996 227.8) scale(1.096629213483146 1)">0</text>
<text x="0" y="0" font-size="10" textLength="44.47" lengthAdjust="spacing" transform="translate(19.7 157.3) rotate(-90) scale(1.0929023190442726 1)">NAR Area</text>
<text x="0" y="0" font-size="12" textLength="30.91" lengthAdjust="spacing" transform="translate(46.5 243.3) scale(1.1 1)">12/08</text>
<text x="0" y="0" font-size="12" textLength="30.91" lengthAdjust="spacing" transform="translate(146.5 243.3) scale(1.1 1)">12/11</text>
<text x="0" y="0" font-size="12" textLength="30.91" lengthAdjust="spacing" transform="translate(245.5 243.3) scale(1.1 1)">12/14</text>
<text x="0" y="0" font-size="12" textLength="30.91" lengthAdjust="spacing" transform="translate(345.5 243.3) scale(1.1 1)">12/17</text>
<text x="0" y="0" font-size="12" textLength="30.91" lengthAdjust="spacing" transform="translate(445.5 243.3) scale(1.1 1)">12/20</text>
<text y="256.9" font-size="12.5"><tspan x="202.7" textLength="65.3" lengthAdjust="spacingAndGlyphs">Start Time:</tspan> <tspan x="275.7" textLength="126.3" lengthAdjust="spacingAndGlyphs">(2022/12/07 15:33)</tspan></text>
<text x="0" y="0" font-size="12" textLength="30.91" lengthAdjust="spacing" transform="translate(46.5 510.3) scale(1.1 1)">12/08</text>
<text x="0" y="0" font-size="12" textLength="30.91" lengthAdjust="spacing" transform="translate(146.5 510.3) scale(1.1 1)">12/11</text>
<text x="0" y="0" font-size="12" textLength="30.91" lengthAdjust="spacing" transform="translate(245.5 510.3) scale(1.1 1)">12/14</text>
<text x="0" y="0" font-size="12" textLength="30.91" lengthAdjust="spacing" transform="translate(345.5 510.3) scale(1.1 1)">12/17</text>
<text x="0" y="0" font-size="12" textLength="30.91" lengthAdjust="spacing" transform="translate(445.5 510.3) scale(1.1 1)">12/20</text>
<text y="523.9" font-size="12.5"><tspan x="202.7" textLength="65.3" lengthAdjust="spacingAndGlyphs">Start Time:</tspan> <tspan x="275.7" textLength="126.3" lengthAdjust="spacingAndGlyphs">(2022/12/07 15:33)</tspan></text>
<text x="0" y="0" font-size="12" textLength="30.91" lengthAdjust="spacing" transform="translate(46.5 777.3) scale(1.1 1)">12/08</text>
<text x="0" y="0" font-size="12" textLength="30.91" lengthAdjust="spacing" transform="translate(146.5 777.3) scale(1.1 1)">12/11</text>
<text x="0" y="0" font-size="12" textLength="30.91" lengthAdjust="spacing" transform="translate(245.5 777.3) scale(1.1 1)">12/14</text>
<text x="0" y="0" font-size="12" textLength="30.91" lengthAdjust="spacing" transform="translate(345.5 777.3) scale(1.1 1)">12/17</text>
<text x="0" y="0" font-size="12" textLength="30.91" lengthAdjust="spacing" transform="translate(445.5 777.3) scale(1.1 1)">12/20</text>
<text x="48.5" y="494.5" font-size="10" text-anchor="end">B</text>
<text x="48.5" y="447" font-size="10" text-anchor="end">C</text>
<text x="48.5" y="396" font-size="10" text-anchor="end">M</text>
<text x="48.5" y="345" font-size="10" text-anchor="end">X</text>
<text x="0" y="0" font-size="10" textLength="18.18" lengthAdjust="spacing" transform="translate(28 294) scale(1.1 1)">X10</text>
<text x="48.5" y="761.5" font-size="10" text-anchor="end">B</text>
<text x="48.5" y="714" font-size="10" text-anchor="end">C</text>
<text x="48.5" y="663" font-size="10" text-anchor="end">M</text>
<text x="48.5" y="612" font-size="10" text-anchor="end">X</text>
<text x="0" y="0" font-size="10" textLength="18.18" lengthAdjust="spacing" transform="translate(28 561) scale(1.1 1)">X10</text>
<text x="0" y="0" font-size="11" textLength="86.36" lengthAdjust="spacing" transform="translate(20 428) rotate(-90) scale(1.1 1)">Flare X-ray Class</text>
<text x="0" y="0" font-size="11" textLength="91.69" lengthAdjust="spacing" transform="translate(20 696) rotate(-90) scale(1.0623040218132243 1)">GOES X-ray Class</text>
<text x="0" y="0" font-size="10" fill="#f00" textLength="27.23" lengthAdjust="spacing" transform="translate(561 286.8) scale(0.9546758462421113 1)">CMEs</text>
<text x="0" y="0" font-size="12.5" textLength="126.0" lengthAdjust="spacing" transform="translate(576.4 449.2) rotate(-90) scale(1.1 1)">Flares observed in AR</text>
<text x="0" y="0" font-size="11.3" textLength="98.59" lengthAdjust="spacing" transform="translate(480 791.3) scale(1.0548335974643424 1)">Prepared by HELIO</text>
<text x="0" y="0" font-size="10.5" fill="#00f" textLength="6.0" lengthAdjust="spacing" transform="translate(558.5 161) scale(1.0833333333333333 1)" font-style="italic">α</text>
<text x="0" y="0" font-size="10.5" fill="#00f" textLength="6.0" lengthAdjust="spacing" transform="translate(558.5 137) scale(0.9166666666666666 1)" font-style="italic">β</text>
<text x="0" y="0" font-size="10.5" fill="#00f" textLength="11.82" lengthAdjust="spacing" transform="translate(558.5 114) scale(1.1 1)" font-style="italic">βγ</text>
<text x="0" y="0" font-size="10.5" fill="#00f" textLength="12.27" lengthAdjust="spacing" transform="translate(558.5 90) scale(1.1 1)" font-style="italic">βδ</text>
<text x="0" y="0" font-size="10.5" fill="#00f" textLength="17.27" lengthAdjust="spacing" transform="translate(558.5 66) scale(1.1 1)" font-style="italic">βγδ</text>
<text x="0" y="0" font-size="10" fill="#00f" textLength="51.36" lengthAdjust="spacing" transform="translate(589.8 139) rotate(-90) scale(1.1 1)">Mag. Class</text>
</g>
</svg>
</body></html>
